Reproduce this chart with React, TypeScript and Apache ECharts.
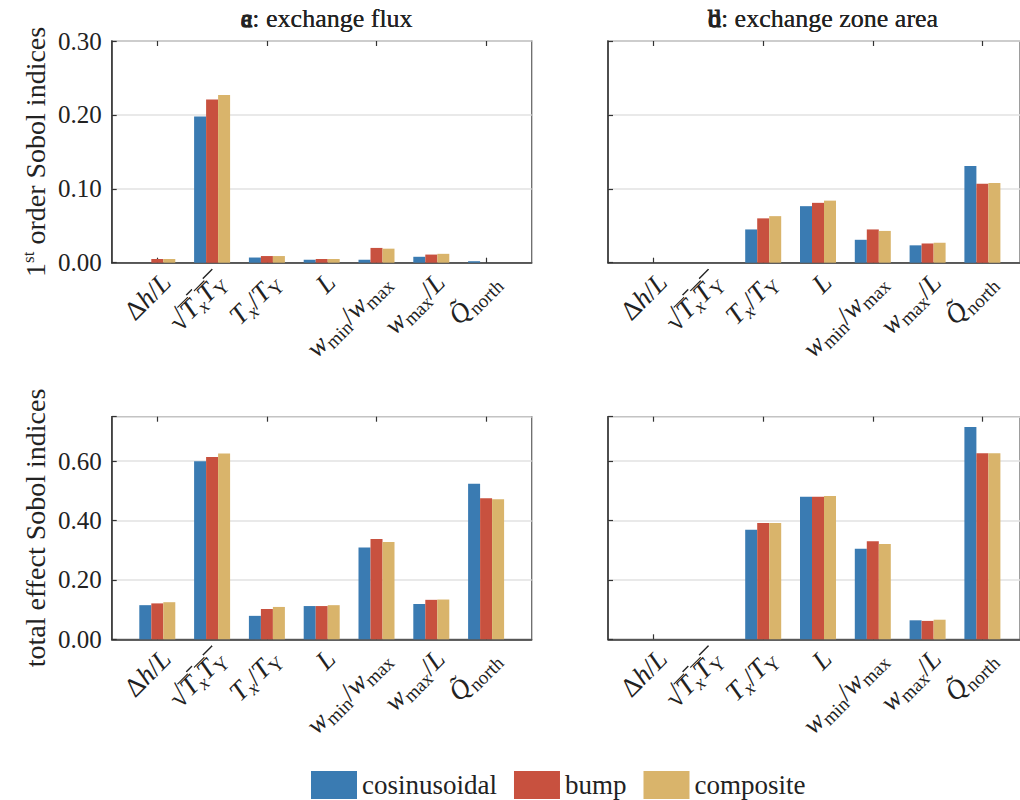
import React, { useEffect, useRef } from 'react';
import * as echarts from 'echarts';

// ---------- data ----------
const categories = ['Δh/L', '√(TxTY)', 'Tx/TY', 'L', 'wmin/wmax', 'wmax/L', 'Q̃north'];
const seriesNames = ['cosinusoidal', 'bump', 'composite'];

// a: 1st order, exchange flux
const aCos = [0, 0.198, 0.007, 0.004, 0.004, 0.008, 0.002];
const aBump = [0.005, 0.221, 0.009, 0.005, 0.020, 0.011, 0];
const aComp = [0.005, 0.227, 0.009, 0.005, 0.019, 0.012, 0];
// b: 1st order, exchange zone area
const bCos = [0, 0, 0.045, 0.0765, 0.031, 0.0235, 0.131];
const bBump = [0, 0, 0.060, 0.081, 0.045, 0.026, 0.107];
const bComp = [0, 0, 0.063, 0.084, 0.043, 0.027, 0.108];
// c: total effect, exchange flux
const cCos = [0.115, 0.600, 0.079, 0.112, 0.309, 0.119, 0.524];
const cBump = [0.121, 0.614, 0.102, 0.112, 0.338, 0.133, 0.475];
const cComp = [0.125, 0.626, 0.109, 0.115, 0.328, 0.134, 0.472];
// d: total effect, exchange zone area
const dCos = [0, 0, 0.369, 0.480, 0.305, 0.064, 0.715];
const dBump = [0, 0, 0.392, 0.480, 0.330, 0.062, 0.627];
const dComp = [0, 0, 0.392, 0.483, 0.321, 0.066, 0.627];

const panelKeys = ['a', 'b', 'c', 'd'];
const panelTitles = ['exchange flux', 'exchange zone area', 'exchange flux', 'exchange zone area'];
const firstOrderTicks = [0, 0.1, 0.2, 0.3];
const totalTicks = [0, 0.2, 0.4, 0.6];

// ---------- styling ----------
const FONT = "'Liberation Serif', 'Times New Roman', serif";
const COLORS = ['#3a7bb2', '#c8513f', '#d9b46b'];
const INK = '#222';

// rich markup for the category labels (same order as categories)
const labelMarkup = [
  '{r|Δ}{i|h}{r|/}{i|L}',
  '{q|√}{o|T}{os|x}{o|T}{ou|Y}',
  '{i|T}{s|x}{r|/}{i|T}{u|Y}',
  '{i|L}',
  '{i|w}{u|min}{r|/}{i|w}{u|max}',
  '{i|w}{u|max}{r|/}{i|L}',
  '{i|Q\u0303}{u|north}',
];

const OVL =
  'data:image/svg+xml;charset=utf-8,' +
  encodeURIComponent(
    '<svg xmlns="http://www.w3.org/2000/svg" width="20" height="34" viewBox="0 0 20 34" preserveAspectRatio="none"><rect x="0" y="4" width="20" height="1.4" fill="#222"/></svg>'
  );

const MAIN = 27;
const SUB = 19;
const LH = 34;
const labelRich: any = {
  r: { fontFamily: FONT, fontSize: MAIN, lineHeight: LH, fill: INK, color: INK },
  i: { fontFamily: FONT, fontSize: MAIN, lineHeight: LH, fill: INK, color: INK, fontStyle: 'italic' },
  q: { fontFamily: FONT, fontSize: MAIN + 2, lineHeight: LH, fill: INK, color: INK },
  s: { fontFamily: FONT, fontSize: SUB, lineHeight: SUB, padding: [LH - SUB, 0, 0, 0], fill: INK, color: INK, fontStyle: 'italic' },
  u: { fontFamily: FONT, fontSize: SUB, lineHeight: SUB, padding: [LH - SUB, 0, 0, 0], fill: INK, color: INK },
  o: { fontFamily: FONT, fontSize: MAIN, lineHeight: LH, fill: INK, color: INK, fontStyle: 'italic', backgroundColor: { image: OVL } },
  os: { fontFamily: FONT, fontSize: SUB, lineHeight: SUB, padding: [LH - SUB, 0, 0, 0], fill: INK, color: INK, fontStyle: 'italic', backgroundColor: { image: OVL } },
  ou: { fontFamily: FONT, fontSize: SUB, lineHeight: SUB, padding: [LH - SUB, 0, 0, 0], fill: INK, color: INK, backgroundColor: { image: OVL } },
};

const lefts = [111.7, 608, 111.7, 608];
const tops = [41, 41, 416.7, 416.7];
const heights = [221.7, 221.7, 222.6, 222.6];
const BOX_W = 420;
const BAR_OFF = 18.2;
const BAR_W = 383.6;

function buildOption() {
  const panelData = [
    [aCos, aBump, aComp],
    [bCos, bBump, bComp],
    [cCos, cBump, cComp],
    [dCos, dBump, dComp],
  ];

  const grid: any[] = [];
  const xAxis: any[] = [];
  const yAxis: any[] = [];
  const series: any[] = [];
  const title: any[] = [];

  panelKeys.forEach((key, p) => {
    const isTop = p < 2;
    const showY = p % 2 === 0;
    const ticks = isTop ? firstOrderTicks : totalTicks;
    const max = isTop ? 0.3 : 0.75;
    const interval = ticks[1] - ticks[0];

    grid.push({
      left: lefts[p], top: tops[p], width: BOX_W, height: heights[p],
      show: true, borderColor: '#6a6a6a', borderWidth: 1.3, backgroundColor: 'transparent',
    });
    grid.push({ left: lefts[p] + BAR_OFF, top: tops[p], width: BAR_W, height: heights[p] });

    const g0 = 2 * p;
    const g1 = 2 * p + 1;

    xAxis.push({
      type: 'value', gridIndex: g0, min: 0, max: 1,
      axisLine: { show: true, lineStyle: { color: '#333', width: 1.5 } },
      axisTick: { show: false }, axisLabel: { show: false }, splitLine: { show: false },
    });
    xAxis.push({
      type: 'category', gridIndex: g1, data: categories, position: 'bottom',
      axisLine: { show: false },
      axisTick: { show: true, inside: true, alignWithLabel: true, length: 5, lineStyle: { color: '#333', width: 1.2 } },
      axisLabel: { show: false },
    });
    xAxis.push({
      type: 'category', gridIndex: g1, data: categories, position: 'top',
      axisLine: { show: false },
      axisTick: { show: true, inside: true, alignWithLabel: true, length: 5, lineStyle: { color: '#333', width: 1.2 } },
      axisLabel: { show: false },
    });

    const nameRich: any = {
      n: { fontFamily: FONT, fontSize: 28, color: INK, lineHeight: 32 },
      sup: { fontFamily: FONT, fontSize: 17, color: INK, lineHeight: 17, padding: [0, 0, 14, 0] },
    };
    yAxis.push({
      type: 'value', gridIndex: g0, min: 0, max, interval,
      axisLine: { show: true, lineStyle: { color: '#333', width: 1.5 } },
      axisTick: { show: true, inside: true, length: 5, lineStyle: { color: '#333', width: 1.2 } },
      axisLabel: {
        show: showY, margin: 10, fontFamily: FONT, fontSize: 25, color: INK,
        formatter: (v: number) => (v > max - 1e-9 && !isTop ? '' : v.toFixed(2)),
      },
      splitLine: { show: true, lineStyle: { color: '#e2e2e2', width: 1.5 } },
      name: showY ? (isTop ? '{n|1}{sup|st}{n| order Sobol indices}' : '{n|total effect Sobol indices}') : '',
      nameLocation: 'middle', nameGap: 60, nameRotate: 90,
      nameTextStyle: { rich: nameRich },
    });
    yAxis.push({ type: 'value', gridIndex: g1, min: 0, max, interval, show: false });

    panelData[p].forEach((vals, s) => {
      series.push({
        type: 'bar', name: seriesNames[s], xAxisIndex: 3 * p + 1, yAxisIndex: 2 * p + 1,
        data: vals, barWidth: 12, barGap: '0%',
        itemStyle: { color: COLORS[s] },
      });
    });

    title.push({
      text: `{b|${key}}{t|: ${panelTitles[p]}}`,
      left: lefts[p] + BOX_W / 2, top: 0, textAlign: 'center',
      textStyle: {
        fontWeight: 'normal',
        rich: {
          b: { fontFamily: FONT, fontSize: 26, fontWeight: 'normal', color: INK, textBorderColor: INK, textBorderWidth: 0.9 },
          t: { fontFamily: FONT, fontSize: 26, fontWeight: 'normal', color: INK },
        },
      },
    });
  });

  return {
    animation: false,
    backgroundColor: '#fff',
    title,
    grid,
    xAxis,
    yAxis,
    series,
    legend: {
      data: seriesNames, left: 306, top: 766, itemWidth: 46, itemHeight: 28, itemGap: 17,
      icon: 'rect',
      textStyle: { fontFamily: FONT, fontSize: 27, color: INK },
    },
  };
}

export default function App() {
  const ref = useRef<HTMLDivElement>(null);
  useEffect(() => {
    const chart = echarts.init(ref.current!, null, { renderer: 'svg' });
    chart.setOption(buildOption() as any);
    // category tick labels, placed at the category axis positions
    const graphic: any[] = [];
    panelKeys.forEach((_k, p) => {
      categories.forEach((_c, idx) => {
        const pt = chart.convertToPixel({ gridIndex: 2 * p + 1 } as any, [idx, 0]) as number[];
        graphic.push({
          type: 'text',
          x: pt[0] + 9,
          y: pt[1] + 15,
          rotation: Math.PI / 4,
          silent: true,
          style: {
            text: labelMarkup[idx],
            rich: labelRich,
            align: 'right',
            verticalAlign: 'middle',
            textAlign: 'right',
            textVerticalAlign: 'middle',
            fill: INK,
          },
        });
      });
    });
    chart.setOption({ graphic } as any);
    return () => chart.dispose();
  }, []);
  return (
    <div
      ref={ref}
      style={{ position: 'absolute', left: 0, top: 0, width: 1020, height: 800, background: '#fff' }}
    />
  );
}
